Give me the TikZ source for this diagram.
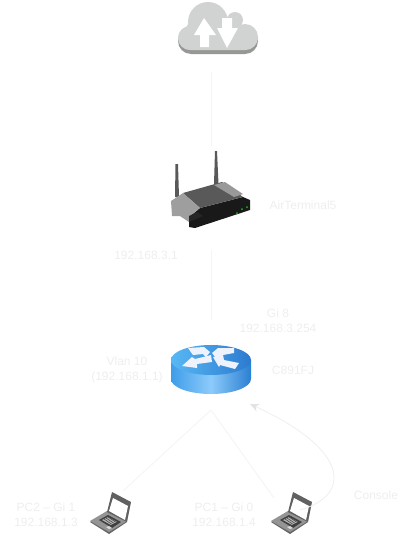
\documentclass[tikz,border=0pt]{standalone}
\usepackage{fontspec}
\setmainfont{Liberation Sans}
\usetikzlibrary{arrows.meta}
\definecolor{faint}{HTML}{EEEEEE}
\definecolor{cloudgray}{HTML}{D1D3D3}
\definecolor{cloudedge}{HTML}{969896}
\definecolor{sideleft}{HTML}{3F9DE9}
\definecolor{sidemid}{HTML}{8CCBFA}
\definecolor{sideright}{HTML}{2A7FD2}
\definecolor{topleft}{HTML}{58B8F4}
\definecolor{topright}{HTML}{2C7AD0}
\definecolor{arrowlight}{HTML}{EDF2FC}
\tikzstyle{Label} = [
text=faint,
inner sep=0pt,
align=center,
font=\fontsize{12}{15}\selectfont
]
\tikzstyle{Slot} = [inner sep=0pt, outer sep=0pt]
\tikzstyle{Link} = [draw=faint!60!white, line width=1pt]
\tikzstyle{Console} = [draw=faint, line width=0.8pt, -{Stealth[length=9pt,width=8pt,color=faint!90!gray]}]
\newcommand{\lobes}{
   (208,22) circle (20)
   (235,20) circle (8)
   (245,37) circle (13)
   (190,38) circle (12)
   (196,30) circle (10)
}
\tikzset{
   laptop/.pic={
      \fill[black!60] (-19,10) -- (-2,0) -- (18,10) -- (0,22) -- cycle;
      \fill[black!42] (-19,9) -- (-2,-1) -- (18,9) -- (0,20) -- cycle;
      \fill[black!75] (-10,8) -- (-1,3) -- (12,10) -- (3,16) -- cycle;
      \fill[black!30] (-7,8) -- (-1,5) -- (8,10) -- (2,13) -- cycle;
      \draw[black!75, line width=0.5pt] (-5,7) -- (4,13) (-3,6) -- (6,12) (-1,5) -- (8,11);
      \fill[black!15] (-3,15) -- (0,14) -- (3,16) -- (0,17) -- cycle;
      \fill[black!62] (3,-20) -- (22,-10) -- (18,10) -- (-2,0) -- cycle;
      \fill[white] (4,-14) -- (19,-6) -- (16,8) -- (0,-1) -- cycle;
   }
}
\begin{document}
\begin{tikzpicture}[x=1pt,y=-1pt]
   \useasboundingbox (0,0) rectangle (410,536);

   \node[Slot, minimum width=80pt, minimum height=72pt] (cloud) at (211,36) {};
   \node[Slot, minimum width=80pt, minimum height=104pt] (ap) at (211,198) {};
   \node[Slot, minimum width=80pt, minimum height=90pt] (rtr) at (211,365) {};
   \node[Slot, minimum width=28pt, minimum height=42pt] (pc2) at (109,512) {};
   \node[Slot, minimum width=32pt, minimum height=28pt] (pc1) at (290,512) {};
   \coordinate (rtrport) at (250,404);
   \coordinate (pc1port) at (300,510);

   \draw[Link] (cloud) -- (ap);
   \draw[Link] (ap) -- (rtr);
   \draw[Link] (rtr.south) -- (pc2.north east);
   \draw[Link] (rtr.south) -- (pc1.north west);

   % cloud
   \fill[cloudedge, rounded corners=13pt] (178,28) rectangle (258,54);
   \fill[cloudgray, rounded corners=13pt] (178,26) rectangle (258,50);
   \fill[cloudgray] \lobes;
   \fill[white] (204,18) -- (216,35) -- (209,35) -- (209,47) -- (200,47) -- (200,35) -- (194,35) -- cycle;
   \fill[white] (222,18) -- (232,18) -- (232,28) -- (238,28) -- (227,48) -- (217,28) -- (222,28) -- cycle;

   % access point
   \fill[black!65] (175.5,164) -- (178,164) -- (179,197) -- (175,197) -- cycle;
   \fill[black!65] (215,151) -- (217,151) -- (218.5,184) -- (214,184) -- cycle;
   \fill[black!90] (243,197) -- (250,200) -- (250,210) -- (195,228) -- (189,227) -- (189,217) -- (200,208) -- cycle;
   \fill[black!65] (183,193) -- (222,182) -- (243,197) -- (200,208) -- cycle;
   \fill[black!40] (214,185) -- (225,182) -- (243,194) -- (234,197) -- cycle;
   \fill[black!38] (171,201) -- (183,193) -- (200,208) -- (189,217) -- (189,222) -- (180,216) -- (172,216) -- cycle;
   \fill[black!85] (189,216) -- (197,212) -- (203,216) -- (189,222) -- cycle;
   \fill[green!80!black] (237,213) circle (1) (242,209) circle (1) (247,207) circle (1);

   % router
   \shade[left color=sideleft, right color=sideright, middle color=sidemid]
      (171,360) -- (171,379) arc[start angle=180, end angle=0, x radius=40, y radius=15]
      -- (251,360) -- cycle;
   \shade[left color=topleft, right color=topright]
      (211,360) ellipse[x radius=40, y radius=15];
   \fill[arrowlight] (188,348) -- (204,347) -- (210,352) -- (206,357) -- (203,354) -- (193,355) -- cycle;
   \fill[arrowlight] (182,366) -- (192,357) -- (195,359) -- (211,355) -- (212,362) -- (197,364) -- (197,368) -- cycle;
   \fill[arrowlight] (212,353) -- (218,348) -- (234,348) -- (234,353) -- (223,355) -- (216,358) -- cycle;
   \fill[arrowlight] (213,357) -- (223,355) -- (224,360) -- (239,363) -- (235,369) -- (220,365) -- (219,367) -- cycle;

   % laptops
   \pic at (109,512) {laptop};
   \pic at (290,512) {laptop};

   \draw[Console] (pc1port) .. controls (352,495) and (350,450) .. (rtrport);

   \node[Label] (apname) at (303,205) {AirTerminal5};
   \node[Label] (apaddr) at (146,255) {192.168.3.1};
   \node[Label] (wanaddr) at (278,321) {Gi 8\\192.168.3.254};
   \node[Label] (lanaddr) at (127,370) {Vlan 10\\(192.168.1.1)};
   \node[Label] (rtrname) at (293,370) {C891FJ};
   \node[Label] (pc2addr) at (46,515) {PC2 -- Gi 1\\192.168.1.3};
   \node[Label] (pc1addr) at (224,515) {PC1 -- Gi 0\\192.168.1.4};
   \node[Label] (conname) at (376,495) {Console};
\end{tikzpicture}
\end{document}
